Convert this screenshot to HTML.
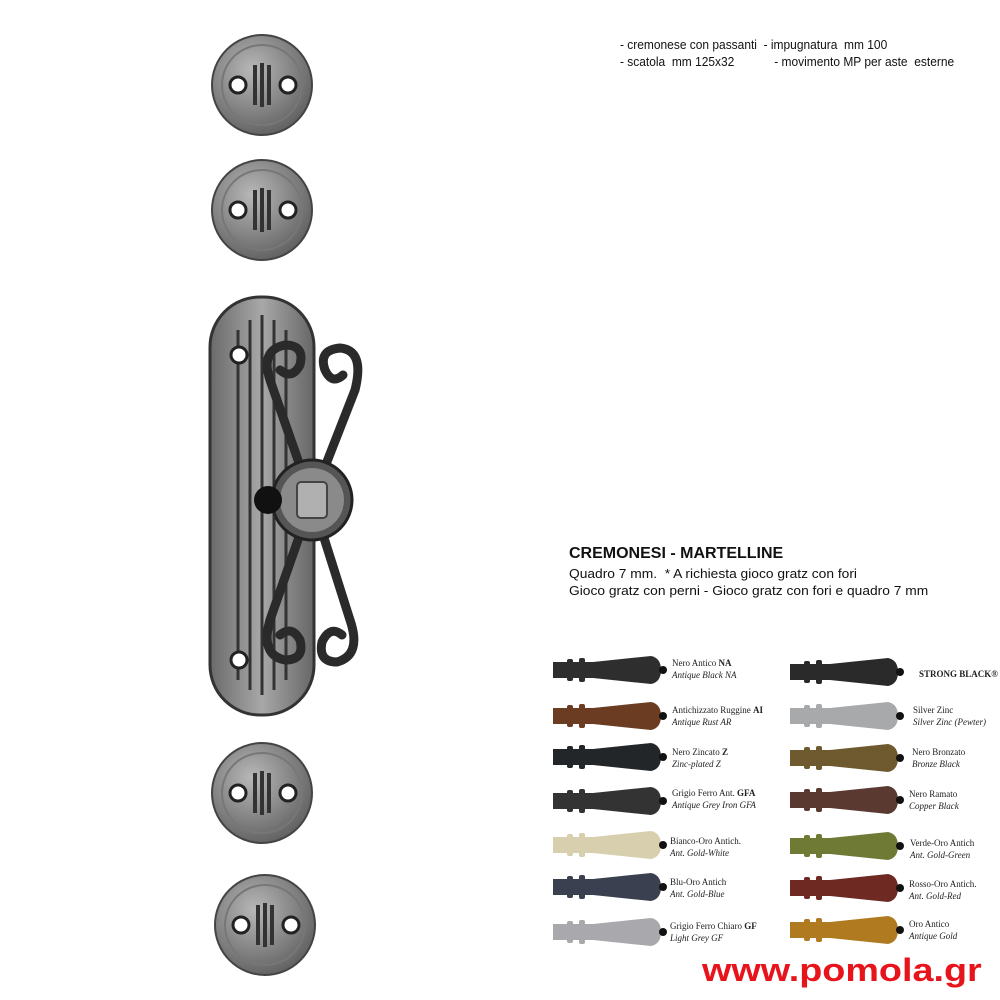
<!DOCTYPE html><html><head><style>
body{margin:0;width:1000px;height:1000px;background:#fff;position:relative;overflow:hidden;font-family:"Liberation Sans",sans-serif}
.t{position:absolute;font-size:12px;color:#111;white-space:nowrap}
.l{position:absolute;font-family:"Liberation Serif",serif;font-size:9px;line-height:12px;color:#222;white-space:nowrap}
.l i{display:block}
</style></head><body>
<svg width="1000" height="1000" style="position:absolute;left:0;top:0">
<defs>
<radialGradient id="m" cx="40%" cy="35%" r="70%"><stop offset="0" stop-color="#b8b8b8"/><stop offset="1" stop-color="#5e5e5e"/></radialGradient>
<linearGradient id="p" x1="0" x2="1"><stop offset="0" stop-color="#6a6a6a"/><stop offset=".5" stop-color="#a8a8a8"/><stop offset="1" stop-color="#666"/></linearGradient>
<g id="ros"><circle r="50" fill="url(#m)" stroke="#444" stroke-width="2"/><circle r="40" fill="none" stroke="#777" stroke-width="2"/>
<circle cx="-24" r="8" fill="#fff" stroke="#222" stroke-width="3"/><circle cx="26" r="8" fill="#fff" stroke="#222" stroke-width="3"/>
<rect x="-9" y="-20" width="4" height="40" fill="#333"/><rect x="-2" y="-22" width="4" height="44" fill="#333"/><rect x="5" y="-20" width="4" height="40" fill="#333"/></g>
<g id="h"><rect x="0" y="-8" width="50" height="16" fill="currentColor"/><rect x="14" y="-11" width="6" height="22" rx="2" fill="currentColor"/><rect x="26" y="-12" width="6" height="24" rx="2" fill="currentColor"/>
<path d="M40 -8 L98 -14 Q108 -12 108 0 Q108 12 98 14 L40 8Z" fill="currentColor"/><circle cx="110" cy="0" r="4" fill="#111"/></g>
</defs>
<use href="#ros" x="262" y="85"/><use href="#ros" x="262" y="210"/><use href="#ros" x="262" y="793"/><use href="#ros" x="265" y="925"/>
<rect x="210" y="297" width="104" height="418" rx="50" fill="url(#p)" stroke="#333" stroke-width="3"/>
<g stroke="#333" stroke-width="3"><line x1="238" y1="330" x2="238" y2="680"/><line x1="250" y1="320" x2="250" y2="690"/><line x1="262" y1="315" x2="262" y2="695"/><line x1="274" y1="320" x2="274" y2="690"/><line x1="286" y1="330" x2="286" y2="680"/></g>
<circle cx="239" cy="355" r="8" fill="#fff" stroke="#222" stroke-width="3"/><circle cx="239" cy="660" r="8" fill="#fff" stroke="#222" stroke-width="3"/>
<g fill="none" stroke="#2a2a2a" stroke-width="9" stroke-linecap="round">
<path d="M312 500 L270 380 Q260 350 285 345 Q305 345 300 365 Q292 380 280 370"/>
<path d="M312 500 L355 390 Q365 350 340 348 Q318 350 325 370 Q332 385 343 375"/>
<path d="M312 500 L270 620 Q260 655 285 660 Q305 660 300 640 Q292 625 280 635"/>
<path d="M312 500 L350 620 Q362 655 337 662 Q318 662 322 642 Q330 625 342 635"/></g>
<circle cx="312" cy="500" r="40" fill="#555" stroke="#222" stroke-width="3"/><circle cx="312" cy="500" r="32" fill="#8a8a8a"/>
<rect x="297" y="482" width="30" height="36" rx="4" fill="#b0b0b0" stroke="#444" stroke-width="2"/>
<circle cx="268" cy="500" r="14" fill="#111"/>
<g>
<use href="#h" x="553" y="670" color="#2e2e2e"/><use href="#h" x="553" y="716" color="#6b3b22"/><use href="#h" x="553" y="757" color="#232628"/><use href="#h" x="553" y="801" color="#333"/><use href="#h" x="553" y="845" color="#d8cfae"/><use href="#h" x="553" y="887" color="#3b4050"/><use href="#h" x="553" y="932" color="#a9a9ad"/>
<use href="#h" x="790" y="672" color="#2a2a2a"/><use href="#h" x="790" y="716" color="#a8a9ab"/><use href="#h" x="790" y="758" color="#6e5a2e"/><use href="#h" x="790" y="800" color="#5a3a30"/><use href="#h" x="790" y="846" color="#6f7a35"/><use href="#h" x="790" y="888" color="#6e2a22"/><use href="#h" x="790" y="930" color="#b07a20"/>
</g></svg>
<div class="t" style="left:620px;top:37px;font-size:13px;transform:scaleX(.92);transform-origin:left">- cremonese con passanti &nbsp;- impugnatura &nbsp;mm 100</div>
<div class="t" style="left:620px;top:54px;font-size:13px;transform:scaleX(.92);transform-origin:left">- scatola &nbsp;mm 125x32 &nbsp;&nbsp;&nbsp;&nbsp;&nbsp;&nbsp;&nbsp;&nbsp;&nbsp;&nbsp;&nbsp;- movimento MP per aste &nbsp;esterne</div>
<div class="t" style="left:569px;top:545px;font-size:16px;font-weight:bold">CREMONESI - MARTELLINE</div>
<div class="t" style="left:569px;top:566px;font-size:13px;transform:scaleX(1.06);transform-origin:left">Quadro 7 mm. &nbsp;* A richiesta gioco gratz con fori</div>
<div class="t" style="left:569px;top:583px;font-size:13px;transform:scaleX(1.06);transform-origin:left">Gioco gratz con perni - Gioco gratz con fori e quadro 7 mm</div>
<div class="l" style="left:672px;top:657px">Nero Antico <b>NA</b><i>Antique Black NA</i></div>
<div class="l" style="left:672px;top:704px">Antichizzato Ruggine <b>AI</b><i>Antique Rust AR</i></div>
<div class="l" style="left:672px;top:746px">Nero Zincato <b>Z</b><i>Zinc-plated Z</i></div>
<div class="l" style="left:672px;top:787px">Grigio Ferro Ant. <b>GFA</b><i>Antique Grey Iron GFA</i></div>
<div class="l" style="left:670px;top:835px">Bianco-Oro Antich.<i>Ant. Gold-White</i></div>
<div class="l" style="left:670px;top:876px">Blu-Oro Antich<i>Ant. Gold-Blue</i></div>
<div class="l" style="left:670px;top:920px">Grigio Ferro Chiaro <b>GF</b><i>Light Grey GF</i></div>
<div class="l" style="left:919px;top:668px;font-weight:bold">STRONG BLACK®</div>
<div class="l" style="left:913px;top:704px">Silver Zinc<i>Silver Zinc (Pewter)</i></div>
<div class="l" style="left:912px;top:746px">Nero Bronzato<i>Bronze Black</i></div>
<div class="l" style="left:909px;top:788px">Nero Ramato<i>Copper Black</i></div>
<div class="l" style="left:910px;top:837px">Verde-Oro Antich<i>Ant. Gold-Green</i></div>
<div class="l" style="left:909px;top:878px">Rosso-Oro Antich.<i>Ant. Gold-Red</i></div>
<div class="l" style="left:909px;top:918px">Oro Antico<i>Antique Gold</i></div>
<div class="t" style="left:702px;top:952px;font-size:32px;font-weight:bold;color:#e8141b;transform:scaleX(1.18);transform-origin:left">www.pomola.gr</div>
</body></html>
